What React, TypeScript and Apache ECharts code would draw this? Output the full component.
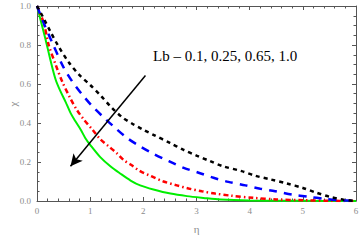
import React, { useEffect, useRef } from "react";
import * as echarts from "echarts";

const etaBlack = [0, 0.1, 0.25, 0.4, 0.6, 0.8, 1.0, 1.2, 1.4, 1.6, 1.8, 2.0, 2.2, 2.5, 2.75, 3.0, 3.25, 3.5, 3.85, 4.1, 4.4, 4.7, 5.0, 5.25, 5.5, 5.75, 6];
const chiBlack = [1, 0.95, 0.87, 0.795, 0.71, 0.645, 0.595, 0.54, 0.48, 0.43, 0.395, 0.365, 0.338, 0.298, 0.263, 0.233, 0.205, 0.178, 0.153, 0.13, 0.11, 0.09, 0.067, 0.043, 0.022, 0.008, 0];

const etaBlue = [0, 0.13, 0.29, 0.5, 0.66, 0.85, 1.04, 1.25, 1.47, 1.69, 1.94, 2.19, 2.48, 2.76, 3.04, 3.32, 3.6, 3.92, 4.2, 4.48, 4.79, 5.1, 5.42, 5.7, 6];
const chiBlue = [1, 0.91, 0.81, 0.685, 0.614, 0.546, 0.486, 0.43, 0.375, 0.324, 0.28, 0.242, 0.204, 0.17, 0.145, 0.119, 0.098, 0.08, 0.063, 0.05, 0.033, 0.022, 0.011, 0.004, 0];

const etaRed = [0, 0.13, 0.22, 0.35, 0.47, 0.63, 0.755, 0.88, 1.04, 1.19, 1.35, 1.5, 1.63, 1.76, 1.94, 2.15, 2.38, 2.63, 2.85, 3.1, 3.35, 3.63, 4.07, 4.5, 5, 5.5, 6];
const chiRed = [1, 0.91, 0.8, 0.7, 0.615, 0.525, 0.465, 0.418, 0.367, 0.317, 0.28, 0.245, 0.21, 0.187, 0.153, 0.127, 0.1, 0.08, 0.064, 0.05, 0.038, 0.028, 0.016, 0.008, 0.004, 0.001, 0];

const etaGreen = [0, 0.066, 0.16, 0.25, 0.35, 0.44, 0.535, 0.63, 0.72, 0.82, 0.91, 1.0, 1.19, 1.38, 1.57, 1.76, 1.94, 2.19, 2.51, 2.82, 3.13, 3.45, 4, 5, 6];
const chiGreen = [1, 0.93, 0.83, 0.726, 0.623, 0.563, 0.51, 0.452, 0.41, 0.367, 0.322, 0.288, 0.225, 0.178, 0.14, 0.105, 0.08, 0.059, 0.038, 0.025, 0.016, 0.008, 0.003, 0.001, 0];

const arrowFrom = [2.04, 0.644];
const arrowTo = [0.63, 0.178];
const annotation = "Lb \u2013 0.1, 0.25, 0.65, 1.0";
const yName = "\u03c7";
const xName = "\u03b7";

const zip = (a: number[], b: number[]) => a.map((v, i) => [v, b[i]]);

export default function App() {
  const ref = useRef<HTMLDivElement>(null);
  useEffect(() => {
    if (!ref.current) return;
    const chart = echarts.init(ref.current, undefined, { renderer: "svg" });
    const axisCol = "#555555";
    const labelCol = "#8c8c8c";
    const font = "'Liberation Serif', 'DejaVu Serif', serif";
    const baseX = {
      type: "value",
      min: 0,
      max: 6,
      interval: 1,
      axisLine: { show: true, onZero: false, lineStyle: { color: axisCol, width: 1 } },
      axisTick: { show: true, inside: true, length: 4, lineStyle: { color: axisCol } },
      minorTick: { show: true, splitNumber: 5, length: 2.5, lineStyle: { color: axisCol } },
      splitLine: { show: false },
      minorSplitLine: { show: false },
    };
    const baseY = {
      type: "value",
      min: 0,
      max: 1,
      interval: 0.2,
      axisLine: { show: true, onZero: false, lineStyle: { color: axisCol, width: 1 } },
      axisTick: { show: true, inside: true, length: 4, lineStyle: { color: axisCol } },
      minorTick: { show: true, splitNumber: 4, length: 2.5, lineStyle: { color: axisCol } },
      splitLine: { show: false },
      minorSplitLine: { show: false },
    };
    chart.setOption({
      animation: false,
      backgroundColor: "#ffffff",
      grid: { left: 37, right: 5, top: 6, bottom: 40, containLabel: false, outerBoundsMode: "none" },
      xAxis: [
        {
          ...baseX,
          position: "bottom",
          name: xName,
          nameLocation: "middle",
          nameGap: 22,
          nameTextStyle: { color: labelCol, fontFamily: font, fontSize: 11 },
          axisLabel: { color: labelCol, fontFamily: font, fontSize: 9, margin: 5 },
        },
        { ...baseX, position: "top", axisLabel: { show: false } },
      ],
      yAxis: [
        {
          ...baseY,
          position: "left",
          axisLabel: {
            color: labelCol,
            fontFamily: font,
            fontSize: 9,
            margin: 6,
            formatter: (v: number) => v.toFixed(1),
          },
        },
        { ...baseY, position: "right", axisLabel: { show: false } },
      ],
      series: [
        {
          type: "line",
          data: zip(etaGreen, chiGreen),
          showSymbol: false,
          smooth: 0.3,
          lineStyle: { color: "#00ee00", width: 2, type: "solid" },
          z: 2,
        },
        {
          type: "line",
          data: zip(etaRed, chiRed),
          showSymbol: false,
          smooth: 0.3,
          lineStyle: { color: "#ff0000", width: 2.5, type: [5, 3, 1.5, 3] },
          z: 3,
        },
        {
          type: "line",
          data: zip(etaBlue, chiBlue),
          showSymbol: false,
          smooth: 0.3,
          lineStyle: { color: "#0000ff", width: 2.5, type: [8, 7] },
          z: 4,
        },
        {
          type: "line",
          data: zip(etaBlack, chiBlack),
          showSymbol: false,
          smooth: 0.3,
          lineStyle: { color: "#000000", width: 2.5, type: [4, 4] },
          z: 5,
          markLine: {
            silent: true,
            symbol: ["none", "arrow"],
            symbolSize: [9, 12],
            label: { show: false },
            lineStyle: { color: "#000000", width: 1.5, type: "solid" },
            data: [[{ coord: arrowFrom }, { coord: arrowTo }]],
          },
        },
      ],
      graphic: [
        {
          type: "text",
          left: 153,
          top: 48,
          style: {
            text: annotation,
            fill: "#000000",
            font: `15px ${font}`,
          },
        },
        {
          type: "text",
          x: 13,
          y: 104,
          rotation: Math.PI / 2,
          style: {
            text: yName,
            fill: labelCol,
            font: `11px ${font}`,
            align: "center",
            verticalAlign: "middle",
          },
        },
      ],
    });
    return () => chart.dispose();
  }, []);
  return <div ref={ref} style={{ width: 361, height: 241, position: "absolute", left: 0, top: 0 }} />;
}
